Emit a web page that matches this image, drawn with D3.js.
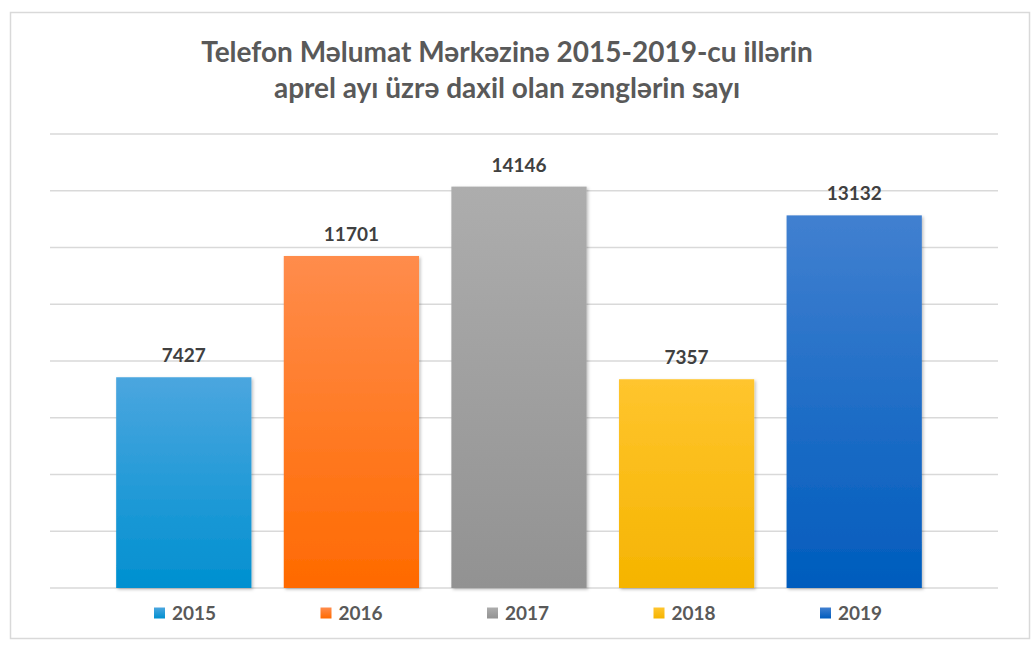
<!DOCTYPE html>
<html>
<head>
<meta charset="utf-8">
<script src="https://cdn.jsdelivr.net/npm/d3@7"></script>
<style>
  body { margin: 0; background: #fff; }
  text { font-family: Lato, "Open Sans", sans-serif; font-weight: bold; }
</style>
</head>
<body>
<div id="chart"></div>
<script>
// data
const years = ["2015", "2016", "2017", "2018", "2019"];
const calls = [7427, 11701, 14146, 7357, 13132];
const titleLines = ["Telefon Məlumat Mərkəzinə 2015-2019-cu illərin", "aprel ayı üzrə daxil olan zənglərin sayı"];
const colorTop = ["#4ba6df", "#ff8c4c", "#adadad", "#ffc52e", "#4180d0"];
const colorBottom = ["#0090d0", "#ff6a00", "#929292", "#f5b400", "#005cbd"];

const W = 1036, H = 650;

const svg = d3.select("#chart").append("svg")
    .attr("width", W)
    .attr("height", H);

const defs = svg.append("defs");

years.forEach((yr, i) => {
    let g = defs.append("linearGradient")
        .attr("id", "grad" + yr)
        .attr("x1", 0).attr("y1", 0).attr("x2", 0).attr("y2", 1);
    g.append("stop").attr("offset", "0%").attr("stop-color", colorTop[i]);
    g.append("stop").attr("offset", "100%").attr("stop-color", colorBottom[i]);
});

defs.append("filter")
    .attr("id", "shadow")
    .attr("x", "-10%").attr("y", "-10%").attr("width", "130%").attr("height", "130%")
    .append("feDropShadow")
    .attr("dx", 1.5).attr("dy", 1.5)
    .attr("stdDeviation", 1.5)
    .attr("flood-color", "#000")
    .attr("flood-opacity", 0.25);

// chart frame
svg.append("rect")
    .attr("x", 10.5).attr("y", 12.5)
    .attr("width", 1019).attr("height", 626)
    .attr("fill", "#fff")
    .attr("stroke", "#d9d9d9")
    .attr("stroke-width", 1.5);

// title
svg.append("text")
    .attr("x", 507)
    .attr("text-anchor", "middle")
    .attr("fill", "#595959")
    .style("font-size", "28px")
    .selectAll("tspan")
    .data(titleLines)
    .enter()
    .append("tspan")
    .attr("x", 507)
    .attr("y", (d, i) => 62 + i * 36)
    .text(d => d);

const x = d3.scaleBand()
    .domain(years)
    .range([100, 938])
    .paddingInner(0.193)
    .paddingOuter(0.0965);

const y = d3.scaleLinear()
    .domain([0, 16000])
    .range([588, 134]);

// gridlines
svg.append("g")
    .selectAll("line")
    .data(y.ticks(8))
    .enter()
    .append("line")
    .attr("x1", 50).attr("x2", 998)
    .attr("y1", d => y(d)).attr("y2", d => y(d))
    .attr("stroke", "#d9d9d9")
    .attr("stroke-width", 1.5);

// bars
svg.append("g")
    .selectAll("rect")
    .data(years)
    .enter()
    .append("rect")
    .attr("x", d => x(d))
    .attr("width", x.bandwidth())
    .attr("y", (d, i) => y(calls[i]))
    .attr("height", (d, i) => y(0) - y(calls[i]))
    .attr("fill", d => "url(#grad" + d + ")")
    .attr("filter", "url(#shadow)");

// value labels
svg.append("g")
    .selectAll("text")
    .data(years)
    .enter()
    .append("text")
    .attr("x", d => x(d) + x.bandwidth() / 2)
    .attr("y", (d, i) => y(calls[i]) - 15)
    .attr("text-anchor", "middle")
    .attr("fill", "#404040")
    .style("font-size", "19px")
    .text((d, i) => calls[i]);

// legend
const lx = d3.scalePoint()
    .domain(years)
    .range([154, 820]);

const legend = svg.append("g")
    .selectAll("g")
    .data(years)
    .enter()
    .append("g")
    .attr("transform", d => `translate(${lx(d)},613)`);

legend.append("rect")
    .attr("x", 0).attr("y", -5.5)
    .attr("width", 11).attr("height", 11)
    .attr("fill", d => "url(#grad" + d + ")");

legend.append("text")
    .attr("x", 18)
    .attr("y", 7)
    .attr("fill", "#595959")
    .style("font-size", "19px")
    .text(d => d);
</script>
</body>
</html>
